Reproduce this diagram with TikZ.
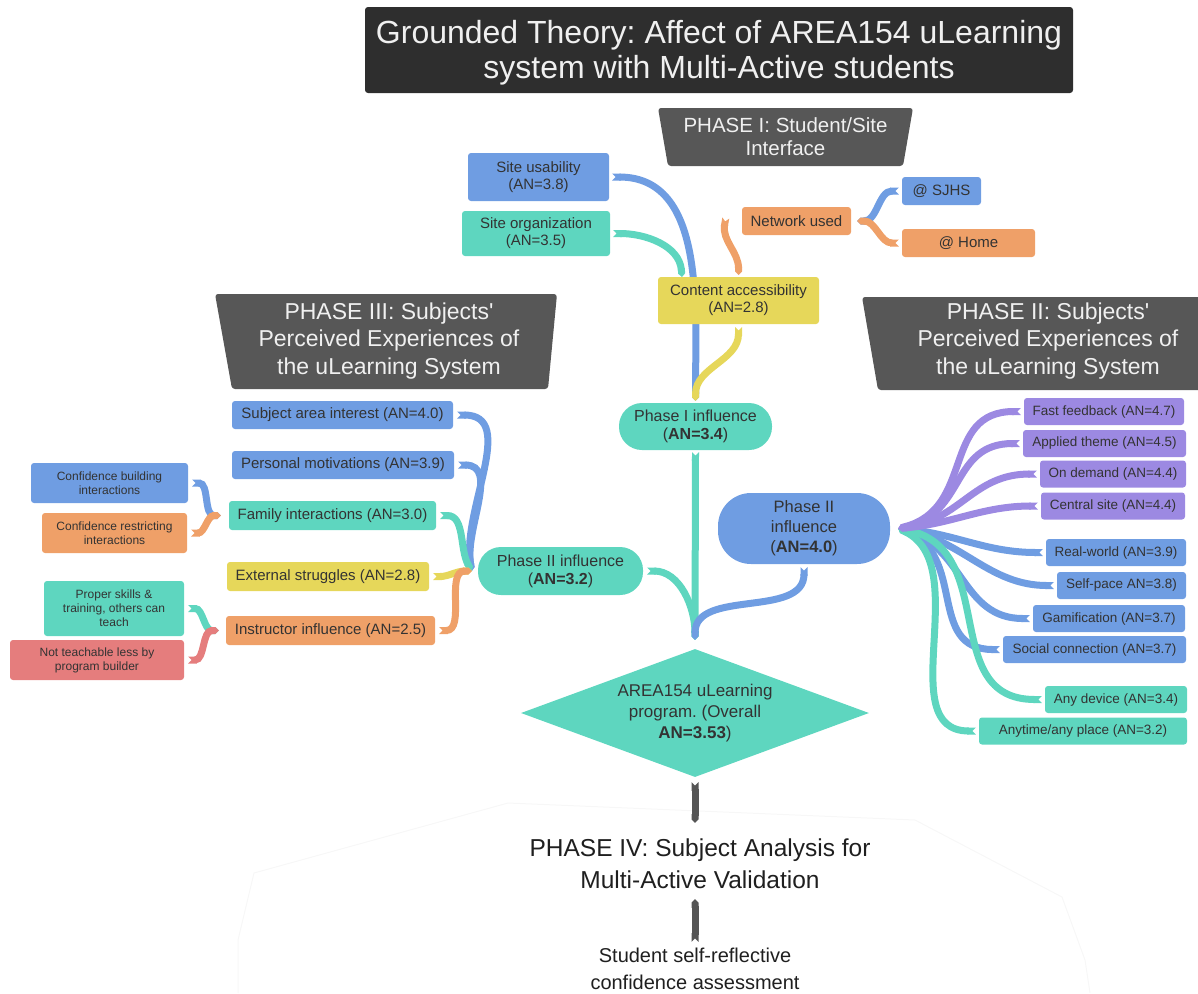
\documentclass[tikz,border=0pt]{standalone}
\usepackage{fontspec}
\setmainfont{Liberation Sans}
\usetikzlibrary{arrows.meta,shapes.geometric}
\frenchspacing

\definecolor{cblue}{RGB}{111,157,226}
\definecolor{cteal}{RGB}{94,214,191}
\definecolor{corange}{RGB}{239,160,104}
\definecolor{cyellow}{RGB}{230,215,90}
\definecolor{cpurple}{RGB}{156,137,226}
\definecolor{cred}{RGB}{229,125,125}
\definecolor{chdr}{RGB}{87,87,87}
\definecolor{ctitle}{RGB}{46,46,46}
\definecolor{ctext}{RGB}{51,51,51}
\definecolor{cgray}{RGB}{85,85,85}

\tikzset{
  box/.style = {fill=#1, rounded corners=3, inner sep=0, align=center, text=ctext, font=\fontsize{15}{17}\selectfont},
  smallbox/.style = {box=#1, font=\fontsize{12}{14}\selectfont},
  sidebox/.style = {box=#1, minimum height=27, font=\fontsize{13.5}{15}\selectfont},
  pill/.style = {box=#1, rounded corners=23, font=\fontsize{16}{18}\selectfont},
  hdrtext/.style = {inner sep=0, align=center, text=white!94!black},
  band/.style = {draw=#1, line width=7, {Triangle Cap[reversed]}-{Triangle Cap}}
}

\begin{document}
\begin{tikzpicture}[x=1pt, y=-1pt]
	\useasboundingbox (0,0) rectangle (1198,993);
	% faint outline behind phase IV
	\draw [black!3, line width=1] (238,993) -- (238,940) -- (254,873) -- (508,803) -- (915,820) -- (1062,897) -- (1085,960) -- (1090,993);

	% headers
	\fill [ctitle, rounded corners=3] (365,7) rectangle (1073,93);
	\node [hdrtext, font=\fontsize{32}{35}\selectfont] (title) at (719,53) {Grounded Theory: Affect of AREA154 uLearning\\system with Multi-Active students};
	\fill [chdr, rounded corners=3] (658,108) -- (913,108) -- (903,166) -- (668,166) -- cycle;
	\node [hdrtext, font=\fontsize{20.5}{23}\selectfont] (ph1) at (785.5,137) {PHASE I: Student/Site\\Interface};
	\fill [chdr, rounded corners=3] (215,294) -- (557,294) -- (548,389) -- (232,389) -- cycle;
	\node [hdrtext, font=\fontsize{23}{27.5}\selectfont] (ph3) at (389,341) {PHASE III: Subjects\textquotesingle\\Perceived Experiences of\\the uLearning System};
	\fill [chdr, rounded corners=3] (862,297) -- (1240,297) -- (1224,390) -- (878,390) -- cycle;
	\node [hdrtext, font=\fontsize{23}{27.5}\selectfont] (ph2) at (1048,341) {PHASE II: Subjects\textquotesingle\\Perceived Experiences of\\the uLearning System};

	% phase I nodes
	\node [box=cblue, minimum width=141, minimum height=48] (siteu) at (538.5,177) {Site usability\\(AN=3.8)};
	\node [box=cteal, minimum width=148, minimum height=45] (siteo) at (536,233.5) {Site organization\\(AN=3.5)};
	\node [box=corange, minimum width=109, minimum height=28] (network) at (796.5,221) {Network used};
	\node [box=cblue, minimum width=79, minimum height=28] (sjhs) at (941.5,191) {@ SJHS};
	\node [box=corange, minimum width=133, minimum height=28] (home) at (968.5,243) {@ Home};
	\node [pill=cteal, minimum width=153, minimum height=47] (p1) at (695.5,426.5) {Phase I influence\\(\textbf{AN=3.4})};

	% connectors, phase I
	\draw [band=cblue] ([xshift=3]siteu.east) to [out=0, in=90] ([yshift=2]p1.north);
	\draw [band=cteal] ([xshift=3]siteo.east) to [out=0, in=95] (682,277);
	\draw [band=cyellow] (738.5,327) to [out=-90, in=90] ([yshift=2]p1.north);
	\draw [band=corange] ([xshift=-16,yshift=3]network.west) to [out=-100, in=90] (738.5,275);
	\draw [band=cblue] ([xshift=-3]sjhs.west) to [out=180, in=0] ([xshift=6]network.east);
	\draw [band=corange] ([xshift=-3]home.west) to [out=180, in=0] ([xshift=6]network.east);
	\node [box=cyellow, minimum width=161, minimum height=47] (content) at (738.5,300.5) {Content accessibility\\(AN=2.8)};

	% phase III nodes
	\node [box=cblue, minimum width=221, minimum height=28] (subj) at (342.5,415) {Subject area interest (AN=4.0)};
	\node [box=cblue, minimum width=222, minimum height=28] (motiv) at (343,465) {Personal motivations (AN=3.9)};
	\node [box=cteal, minimum width=207, minimum height=29] (family) at (332.5,515.5) {Family interactions (AN=3.0)};
	\node [box=cyellow, minimum width=202, minimum height=29] (extern) at (328,576.5) {External struggles (AN=2.8)};
	\node [box=corange, minimum width=209, minimum height=29] (instr) at (330.5,630.5) {Instructor influence (AN=2.5)};
	\node [smallbox=cblue, minimum width=157, minimum height=40] (confb) at (109.5,483) {Confidence building\\interactions};
	\node [smallbox=corange, minimum width=145, minimum height=40] (confr) at (114.5,533) {Confidence restricting\\interactions};
	\node [smallbox=cteal, minimum width=140, minimum height=55] (proper) at (114,608.5) {Proper skills \&\\training, others can\\teach};
	\node [smallbox=cred, minimum width=174, minimum height=40] (notteach) at (97,660) {Not teachable less by\\program builder};
	\node [pill=cteal, minimum width=165, minimum height=48] (p2l) at (560.5,571) {Phase II influence\\(\textbf{AN=3.2})};

	% connectors, phase III
	\coordinate (m3) at ([xshift=-6]p2l.west);
	\draw [band=cblue] ([xshift=4]subj.east) to [out=0, in=100] (m3);
	\draw [band=cblue] ([xshift=4]motiv.east) to [out=0, in=100] (m3);
	\draw [band=cteal] ([xshift=4]family.east) to [out=0, in=120] (m3);
	\draw [band=cyellow] ([xshift=4]extern.east) to [out=0, in=180] (m3);
	\draw [band=corange] ([xshift=4]instr.east) to [out=0, in=180] (m3);
	\coordinate (mf) at ([xshift=-8]family.west);
	\draw [band=cblue] ([xshift=4]confb.east) to [out=0, in=180] (mf);
	\draw [band=corange] ([xshift=4]confr.east) to [out=0, in=180] (mf);
	\coordinate (mi) at ([xshift=-7]instr.west);
	\draw [band=cteal] ([xshift=4]proper.east) to [out=0, in=180] (mi);
	\draw [band=cred] ([xshift=4]notteach.east) to [out=0, in=180] (mi);

	% phase II nodes
	\node [pill=cblue, rounded corners=33, minimum width=172, minimum height=71, font=\fontsize{16.5}{20}\selectfont] (p2r) at (804,528.5) {Phase II\\influence\\(\textbf{AN=4.0})};
	\node [sidebox=cpurple, minimum width=160] (fast) at (1104,411.5) {Fast feedback (AN=4.7)};
	\node [sidebox=cpurple, minimum width=163] (applied) at (1104.5,443.5) {Applied theme (AN=4.5)};
	\node [sidebox=cpurple, minimum width=146] (ondemand) at (1113,474) {On demand (AN=4.4)};
	\node [sidebox=cpurple, minimum width=144] (central) at (1113,506) {Central site (AN=4.4)};
	\node [sidebox=cblue, minimum width=140] (realworld) at (1116,552.5) {Real-world (AN=3.9)};
	\node [sidebox=cblue, minimum width=129] (selfpace) at (1121.5,585.5) {Self-pace AN=3.8)};
	\node [sidebox=cblue, minimum width=152] (gamif) at (1109,618.5) {Gamification (AN=3.7)};
	\node [sidebox=cblue, minimum width=183] (social) at (1094.5,649.5) {Social connection (AN=3.7)};
	\node [sidebox=cteal, minimum width=142] (anydev) at (1116,699.5) {Any device (AN=3.4)};
	\node [sidebox=cteal, minimum width=208] (anytime) at (1083,731) {Anytime/any place (AN=3.2)};

	% connectors, phase II
	\coordinate (mr) at ([xshift=8]p2r.east);
	\draw [band=cblue] ([xshift=-3]realworld.west) to [out=180, in=-5] (mr);
	\draw [band=cblue] ([xshift=-3]selfpace.west) to [out=180, in=-10] (mr);
	\draw [band=cblue] ([xshift=-3]gamif.west) to [out=180, in=-15, looseness=1.1] (mr);
	\draw [band=cblue] ([xshift=-3]social.west) to [out=180, in=-20, looseness=1.2] (mr);
	\draw [band=cteal] ([xshift=-3]anydev.west) to [out=180, in=-10, looseness=1.2] (mr);
	\draw [band=cteal] ([xshift=-3]anytime.west) to [out=180, in=-25] (mr);
	\draw [band=cpurple] ([xshift=-3]fast.west) to [out=180, in=15, looseness=1.2] (mr);
	\draw [band=cpurple] ([xshift=-3]applied.west) to [out=180, in=12, looseness=1.2] (mr);
	\draw [band=cpurple] ([xshift=-3]ondemand.west) to [out=180, in=8, looseness=1.1] (mr);
	\draw [band=cpurple] ([xshift=-3]central.west) to [out=180, in=5] (mr);

	% program and phase IV
	\node [diamond, aspect=2.7, fill=cteal, inner sep=0, minimum width=348, minimum height=128, align=center, text=ctext, font=\fontsize{17}{21}\selectfont] (prog) at (695,713) {AREA154 uLearning\\program. (Overall\\\textbf{AN=3.53})};
	\coordinate (mc) at ([yshift=9]prog.north);
	\draw [band=cteal] ([yshift=-2]p1.south) -- (mc);
	\draw [band=cteal] ([xshift=4]p2l.east) to [out=0, in=90] (mc);
	\draw [band=cblue] ([yshift=-3]p2r.south) to [out=-90, in=90] (mc);

	\node [inner sep=0, align=center, text=black!88, font=\fontsize{24.5}{32}\selectfont] (ph4) at (700,864) {PHASE IV: Subject Analysis for\\Multi-Active Validation};
	\node [inner sep=0, align=center, text=black!88, font=\fontsize{20}{27}\selectfont] (self) at (695,969) {Student self-reflective\\confidence assessment};
	\draw [band=cgray] ([yshift=-5]prog.south) -- ([xshift=-5,yshift=16]ph4.north);
	\draw [band=cgray] ([yshift=6]self.north) -- ([xshift=-5,yshift=-10]ph4.south);
\end{tikzpicture}
\end{document}
